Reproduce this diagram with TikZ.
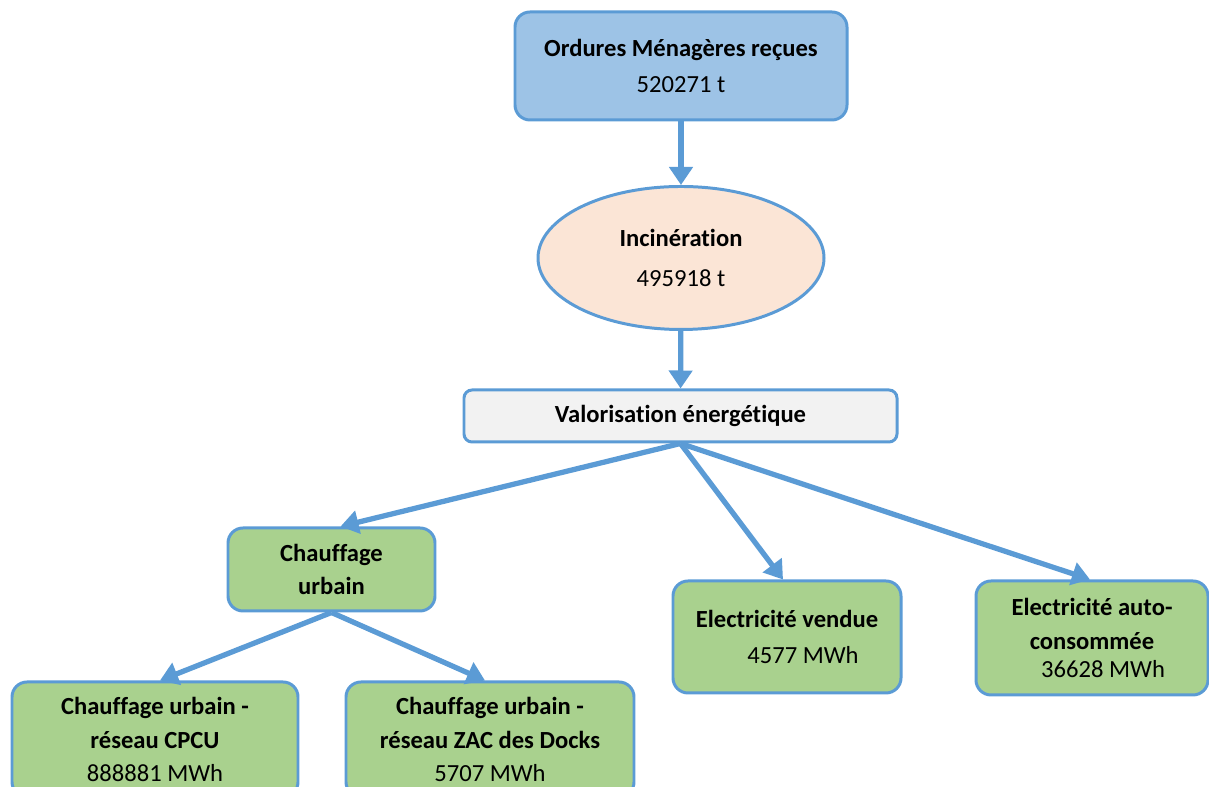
\documentclass[tikz,border=0pt]{standalone}
\usepackage{fontspec}
\setmainfont[Ligatures = NoCommon]{Carlito}
\usetikzlibrary{arrows.meta,shapes.geometric}
\definecolor{lineblue}{HTML}{5B9BD5}
\definecolor{topfill}{HTML}{9DC3E6}
\definecolor{incfill}{HTML}{FBE5D6}
\definecolor{valfill}{HTML}{F2F2F2}
\definecolor{leaffill}{HTML}{A9D18E}
\tikzset{
    box/.style = {draw = lineblue, line width = 1.7pt, rounded corners = 0.3cm,
        align = center, inner sep = 0pt, font = \fontsize{14}{21}\selectfont},
    leaf/.style = {box, fill = leaffill, font = \fontsize{14}{19}\selectfont},
    flow/.style = {draw = lineblue, line width = 3pt,
        -{Triangle[length = 0.36cm, width = 0.46cm]}},
}
\begin{document}
\begin{tikzpicture}
        \useasboundingbox (0, 0) rectangle (24.18, 15.74);
        % top of the chain
        \node[box, fill = topfill, minimum width = 6.64cm, minimum height = 2.16cm]
            (ordures) at (13.62, 14.42) {\textbf{Ordures Ménagères reçues}\\520271 t};
        \node[box, ellipse, fill = incfill, minimum width = 5.72cm, minimum height = 2.86cm]
            (incin) at (13.62, 10.58) {\textbf{Incinération}\\[2pt]495918 t};
        \node[box, fill = valfill, rounded corners = 0.16cm, minimum width = 8.66cm, minimum height = 1.04cm]
            (valor) at (13.61, 7.42) {\textbf{Valorisation énergétique}};
        % outputs
        \node[leaf, minimum width = 4.14cm, minimum height = 1.66cm]
            (chauf) at (6.63, 4.35) {\textbf{Chauffage}\\\textbf{urbain}};
        \node[leaf, minimum width = 4.56cm, minimum height = 2.24cm]
            (vendue) at (15.74, 3.00) {\textbf{Electricité vendue}\\[2pt]\hspace*{1.3em}4577 MWh};
        \node[leaf, minimum width = 4.64cm, minimum height = 2.28cm]
            (auto) at (21.84, 2.98) {\textbf{Electricité auto-}\\\textbf{consommée}\\[-3pt]\hspace*{0.9em}36628 MWh};
        \node[leaf, minimum width = 5.72cm, minimum height = 2.3cm]
            (cpcu) at (3.10, 0.95) {\textbf{Chauffage urbain -}\\\textbf{réseau CPCU}\\888881 MWh};
        \node[leaf, minimum width = 5.76cm, minimum height = 2.3cm]
            (zac) at (9.80, 0.95) {\textbf{Chauffage urbain -}\\\textbf{réseau ZAC des Docks}\\5707 MWh};
        % arrows
        \draw[flow] (ordures) -- (incin);
        \draw[flow] (incin) -- (valor);
        \draw[flow] (valor.south) -- ([xshift = 0.18cm]chauf.north);
        \draw[flow] (valor.south) -- ([xshift = -0.08cm]vendue.north);
        \draw[flow] (valor.south) -- ([xshift = -0.04cm]auto.north);
        \draw[flow] (chauf.south) -- ([xshift = 0.1cm]cpcu.north);
        \draw[flow] (chauf.south) -- ([xshift = -0.1cm]zac.north);
    \end{tikzpicture}
\end{document}
